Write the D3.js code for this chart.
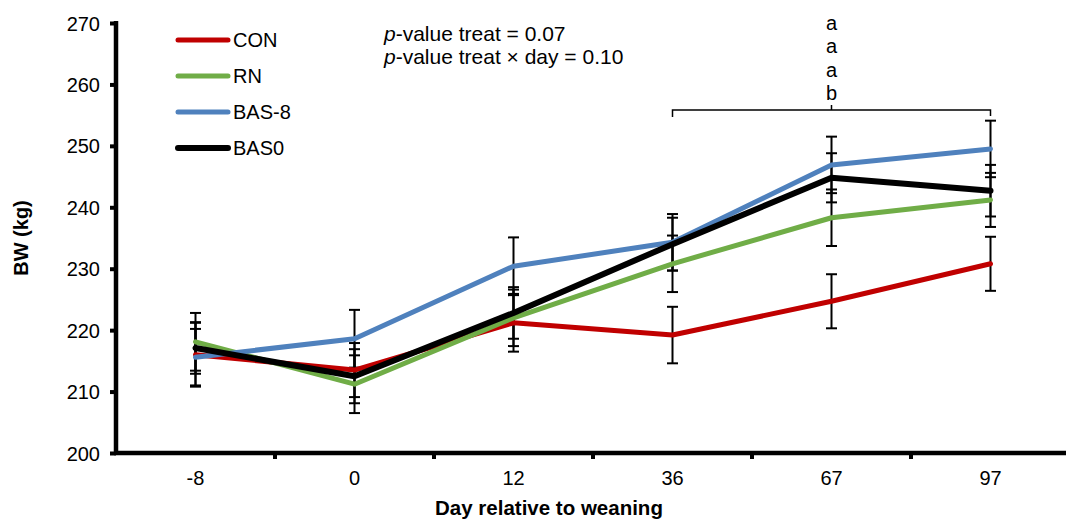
<!DOCTYPE html>
<html><head><meta charset="utf-8">
<script src="https://cdn.jsdelivr.net/npm/d3@7/dist/d3.min.js"></script>
<style>body{margin:0;background:#fff;}svg{display:block;font-family:"Liberation Sans",Arial,sans-serif;}</style>
</head><body><svg id="c" width="1066" height="521"></svg>
<script>
const days = ["-8", "0", "12", "36", "67", "97"];
const seriesNames = ["CON", "RN", "BAS-8", "BAS0"];
const seriesColors = ["#C00000", "#70AD47", "#4F81BD", "#000000"];
const conBW = [216.0, 213.5, 221.2, 219.2, 224.7, 230.8];
const conSE = [5.2, 4.4, 4.7, 4.6, 4.4, 4.4];
const rnBW = [218.1, 211.2, 222.0, 230.8, 238.3, 241.2];
const rnSE = [4.7, 4.7, 4.6, 4.6, 4.6, 4.4];
const bas8BW = [215.6, 218.6, 230.4, 234.3, 246.9, 249.5];
const bas8SE = [4.6, 4.7, 4.7, 4.6, 4.6, 4.6];
const bas0BW = [217.1, 212.5, 222.8, 234.0, 244.8, 242.7];
const bas0SE = [4.2, 4.4, 4.2, 4.3, 4.0, 4.2];
const yTicks = [200, 210, 220, 230, 240, 250, 260, 270];
const sigLetters = ["a", "a", "a", "b"];

const series = [
  {name: seriesNames[0], color: seriesColors[0], v: conBW, se: conSE, w: 5},
  {name: seriesNames[1], color: seriesColors[1], v: rnBW, se: rnSE, w: 5},
  {name: seriesNames[2], color: seriesColors[2], v: bas8BW, se: bas8SE, w: 5},
  {name: seriesNames[3], color: seriesColors[3], v: bas0BW, se: bas0SE, w: 6}
];

const svg = d3.select("#c");
const x = d3.scaleBand().domain(days).range([116, 1070]);
const y = d3.scaleLinear().domain([200, 270]).range([453, 23]);
const cx = d => x(d) + x.bandwidth() / 2;
const FS = 20;

// Axes
const yAxis = svg.append("g").attr("transform", "translate(116,0)")
  .call(d3.axisLeft(y).tickValues(yTicks).tickSize(6).tickSizeOuter(0).tickPadding(10));
yAxis.select(".domain").attr("stroke-width", 4.5).attr("d", `M0,${y(270)-2}V${y(200)}`);
yAxis.selectAll(".tick line").attr("stroke-width", 4);
yAxis.selectAll("text").style("font-size", FS + "px").attr("fill", "#000").attr("dy", "0.35em");

const xAxis = svg.append("g").attr("transform", "translate(0,453)")
  .call(d3.axisBottom(x).tickSize(0).tickPadding(18));
xAxis.select(".domain").attr("stroke-width", 4.5).attr("d", "M114,0H1070");
xAxis.selectAll("text").style("font-size", FS + "px").attr("fill", "#000");
// boundary ticks of category axis
const bounds = days.map(d => x(d)).concat([x(days[days.length-1]) + x.bandwidth()]);
svg.append("g").selectAll("line").data(bounds.slice(1)).join("line")
  .attr("x1", d => d).attr("x2", d => d).attr("y1", 453).attr("y2", 459)
  .attr("stroke", "#000").attr("stroke-width", 4);

svg.append("text").attr("x", 549).attr("y", 515).attr("text-anchor", "middle")
  .style("font-size", "20.5px").style("font-weight", "bold").text("Day relative to weaning");
svg.append("text").attr("transform", "translate(28,238) rotate(-90)").attr("text-anchor", "middle")
  .style("font-size", FS + "px").style("font-weight", "bold").text("BW (kg)");

// error bars
const eg = svg.append("g");
series.forEach(s => {
  days.forEach((d, i) => {
    const xx = cx(d), hi = y(s.v[i] + s.se[i]), lo = y(s.v[i] - s.se[i]);
    eg.append("line").attr("x1", xx).attr("x2", xx).attr("y1", hi).attr("y2", lo).attr("stroke", "#000").attr("stroke-width", 2);
    [hi, lo].forEach(yy => eg.append("line").attr("x1", xx - 5.5).attr("x2", xx + 5.5).attr("y1", yy).attr("y2", yy).attr("stroke", "#000").attr("stroke-width", 2));
  });
});

// lines
const line = d3.line().x((v, i) => cx(days[i])).y(v => y(v));
series.forEach(s => {
  svg.append("path").attr("d", line(s.v)).attr("fill", "none").attr("stroke", s.color)
    .attr("stroke-width", s.w).attr("stroke-linejoin", "round").attr("stroke-linecap", "round");
});

// legend
const lg = svg.append("g");
series.forEach((s, i) => {
  const yy = 40 + i * 36;
  lg.append("line").attr("x1", 178).attr("x2", 228).attr("y1", yy).attr("y2", yy)
    .attr("stroke", s.color).attr("stroke-width", s.w).attr("stroke-linecap", "round");
  lg.append("text").attr("x", 233).attr("y", yy).attr("dy", "0.35em").style("font-size", FS + "px").text(s.name);
});

// p-values
const t1 = svg.append("text").attr("x", 384).attr("y", 41).style("font-size", "21px");
t1.append("tspan").style("font-style", "italic").text("p");
t1.append("tspan").text("-value treat = 0.07");
const t2 = svg.append("text").attr("x", 384).attr("y", 64).style("font-size", "21px");
t2.append("tspan").style("font-style", "italic").text("p");
t2.append("tspan").text("-value treat \u00d7 day = 0.10");

// bracket & letters
const bx1 = cx("36"), bx2 = cx("97"), bm = cx("67"), by = 110;
svg.append("path").attr("d", `M${bx1},${by+7}V${by}H${bx2}V${by+6}M${bm},${by}V${by-5}`)
  .attr("fill", "none").attr("stroke", "#000").attr("stroke-width", 1.5);
sigLetters.forEach((l, i) => {
  svg.append("text").attr("x", bm).attr("y", 23 + i * 23.3).attr("dy", "0.35em").attr("text-anchor", "middle")
    .style("font-size", FS + "px").text(l);
});
</script></body></html>
